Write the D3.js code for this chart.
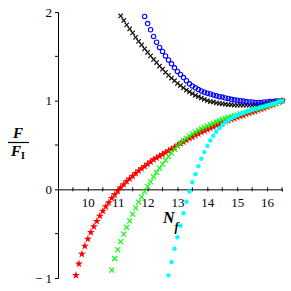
<!DOCTYPE html>
<html>
<head>
<meta charset="utf-8">
<script src="https://cdn.jsdelivr.net/npm/d3@7"></script>
<style>
body { margin: 0; background: white; }
text { font-family: "Liberation Serif", "Times New Roman", serif; }
</style>
</head>
<body>
<script>
// N_f grid shared by all series (each series uses the tail of it)
const nf = [9.6, 9.7, 9.8, 9.9, 10.0, 10.1, 10.2, 10.3, 10.4, 10.5,
    10.6, 10.7, 10.8, 10.9, 11.0, 11.1, 11.2, 11.3, 11.4, 11.5,
    11.6, 11.7, 11.8, 11.9, 12.0, 12.1, 12.2, 12.3, 12.4, 12.5,
    12.6, 12.7, 12.8, 12.9, 13.0, 13.1, 13.2, 13.3, 13.4, 13.5,
    13.6, 13.7, 13.8, 13.9, 14.0, 14.1, 14.2, 14.3, 14.4, 14.5,
    14.6, 14.7, 14.8, 14.9, 15.0, 15.1, 15.2, 15.3, 15.4, 15.5,
    15.6, 15.7, 15.8, 15.9, 16.0, 16.1, 16.2, 16.3, 16.4, 16.5]

// F/F_I values
const blackCross = [1.955, 1.905, 1.855, 1.81, 1.765, 1.715, 1.67, 1.63, 1.585, 1.545,
    1.505, 1.465, 1.43, 1.39, 1.355, 1.32, 1.285, 1.255, 1.225, 1.195,
    1.17, 1.145, 1.12, 1.10, 1.08, 1.06, 1.045, 1.03, 1.015, 1.0,
    0.99, 0.985, 0.975, 0.97, 0.965, 0.96, 0.955, 0.955, 0.95, 0.95,
    0.95, 0.95, 0.95, 0.95, 0.95, 0.955, 0.955, 0.96, 0.965, 0.97,
    0.975, 0.98, 0.985, 0.99, 1.0]
const blueCircle = [1.95, 1.87, 1.80, 1.725, 1.66, 1.60, 1.555, 1.505, 1.46, 1.415,
    1.37, 1.33, 1.295, 1.26, 1.225, 1.19, 1.165, 1.145, 1.125, 1.11,
    1.095, 1.085, 1.075, 1.065, 1.055, 1.045, 1.04, 1.03, 1.025, 1.015,
    1.01, 1.005, 1.0, 0.995, 0.99, 0.985, 0.985, 0.98, 0.98, 0.98,
    0.985, 0.985, 0.99, 0.99, 0.995, 0.995, 1.0]
const redStar = [-0.97, -0.84, -0.73, -0.64, -0.56, -0.485, -0.42, -0.36, -0.30, -0.245,
    -0.195, -0.15, -0.10, -0.06, -0.02, 0.02, 0.055, 0.09, 0.12, 0.15,
    0.18, 0.21, 0.235, 0.26, 0.285, 0.31, 0.335, 0.355, 0.375, 0.395,
    0.415, 0.435, 0.455, 0.475, 0.495, 0.515, 0.535, 0.555, 0.575, 0.59,
    0.61, 0.625, 0.645, 0.66, 0.675, 0.69, 0.705, 0.72, 0.735, 0.75,
    0.765, 0.775, 0.79, 0.80, 0.815, 0.825, 0.835, 0.85, 0.86, 0.87,
    0.88, 0.895, 0.905, 0.915, 0.93, 0.945, 0.955, 0.97, 0.985, 1.0]
const greenCross = [-0.91, -0.78, -0.68, -0.59, -0.505, -0.43, -0.355, -0.28, -0.21, -0.145,
    -0.085, -0.025, 0.03, 0.085, 0.14, 0.19, 0.24, 0.285, 0.33, 0.37,
    0.41, 0.45, 0.49, 0.52, 0.55, 0.575, 0.60, 0.625, 0.645, 0.665,
    0.685, 0.70, 0.715, 0.73, 0.745, 0.76, 0.775, 0.79, 0.80, 0.81,
    0.82, 0.83, 0.84, 0.85, 0.86, 0.87, 0.88, 0.89, 0.90, 0.91,
    0.92, 0.93, 0.94, 0.95, 0.96, 0.97, 0.985, 1.0]
const cyanDot = [-0.97, -0.82, -0.67, -0.54, -0.41, -0.27, -0.14, -0.025, 0.08, 0.17,
    0.26, 0.345, 0.42, 0.49, 0.55, 0.605, 0.65, 0.69, 0.725, 0.755,
    0.78, 0.80, 0.82, 0.835, 0.85, 0.86, 0.875, 0.885, 0.895, 0.905,
    0.915, 0.925, 0.935, 0.945, 0.955, 0.965, 0.975, 0.99, 1.0]

const xMajor = [10, 11, 12, 13, 14, 15, 16]
const xMinor = [9.5, 10.5, 11.5, 12.5, 13.5, 14.5, 15.5, 16.5]
const yMajor = [-1, 0, 1, 2]
const yMinor = [-0.5, 0.5, 1.5]

let xScale, yScale
let w = 291, h = 291

function createScales() {
    xScale = d3.scaleLinear().domain([9, 16.5]).range([58, 282])
    yScale = d3.scaleLinear().domain([-1, 2]).range([278, 12])
}

function pts(vals) {
    // pair each value with the tail of the N_f grid
    let ns = nf.slice(nf.length - vals.length)
    return vals.map((v, i) => [ns[i], v])
}

function drawChart() {
    let svg = d3.select('body').append('svg')
        .attr('width', w)
        .attr('height', h)

    // x-axis through F = 0
    let xAxis = d3.axisBottom(xScale).tickValues(xMajor).tickSizeOuter(0)
        .tickSize(2).tickPadding(6).tickFormat(d3.format('d'))
    let gx = svg.append('g')
        .attr('transform', `translate(0, ${yScale(0)})`)
        .call(xAxis)
    gx.selectAll('.tick line').attr('y1', -2).attr('y2', 2)
    gx.selectAll('text').style('font-size', '13px').attr('fill', '#000')
    gx.selectAll('.minor')
        .data(xMinor)
        .join('line')
        .attr('x1', d => xScale(d)).attr('x2', d => xScale(d))
        .attr('y1', -2).attr('y2', 2)
        .attr('stroke', '#000')

    // y-axis
    let yAxis = d3.axisLeft(yScale).tickValues(yMajor).tickSizeOuter(0)
        .tickSize(3).tickPadding(3)
        .tickFormat(d => d < 0 ? '\u2212 ' + Math.abs(d) : d)
    let gy = svg.append('g')
        .attr('transform', `translate(${xScale(9)}, 0)`)
        .call(yAxis)
    gy.selectAll('text').style('font-size', '13px').attr('fill', '#000')
    gy.selectAll('.minor')
        .data(yMinor)
        .join('line')
        .attr('y1', d => yScale(d)).attr('y2', d => yScale(d))
        .attr('x1', -3).attr('x2', 0)
        .attr('stroke', '#000')

    // series markers
    const cross = 'M-2.2,-2.2L2.2,2.2M-2.2,2.2L2.2,-2.2'
    const gcross = 'M-2.5,-2.5L2.5,2.5M-2.5,2.5L2.5,-2.5'

    svg.append('g').selectAll('path')
        .data(pts(blackCross))
        .join('path')
        .attr('transform', d => `translate(${xScale(d[0])},${yScale(d[1])})`)
        .attr('d', cross)
        .attr('stroke', '#111')
        .attr('stroke-width', 1.2)

    svg.append('g').selectAll('circle')
        .data(pts(blueCircle))
        .join('circle')
        .attr('cx', d => xScale(d[0]))
        .attr('cy', d => yScale(d[1]))
        .attr('r', 2.2)
        .attr('fill', 'none')
        .attr('stroke', '#0000ff')
        .attr('stroke-width', 1.1)

    svg.append('g').selectAll('path')
        .data(pts(redStar))
        .join('path')
        .attr('transform', d => `translate(${xScale(d[0])},${yScale(d[1])})`)
        .attr('d', d3.symbol(d3.symbolStar, 20)())
        .attr('fill', '#ff0000')

    svg.append('g').selectAll('path')
        .data(pts(greenCross))
        .join('path')
        .attr('transform', d => `translate(${xScale(d[0])},${yScale(d[1])})`)
        .attr('d', gcross)
        .attr('stroke', '#00ff00')
        .attr('stroke-width', 1.1)

    svg.append('g').selectAll('circle')
        .data(pts(cyanDot))
        .join('circle')
        .attr('cx', d => xScale(d[0]))
        .attr('cy', d => yScale(d[1]))
        .attr('r', 2.2)
        .attr('fill', '#00ffff')

    // y label: F / F_I
    let yl = svg.append('g').attr('font-weight', 'bold')
    yl.append('text')
        .attr('x', 18).attr('y', 138)
        .attr('text-anchor', 'middle')
        .style('font-size', '15px').style('font-style', 'italic')
        .text('F')
    yl.append('line')
        .attr('x1', 8).attr('x2', 29)
        .attr('y1', 142.5).attr('y2', 142.5)
        .attr('stroke', '#000').attr('stroke-width', 1.2)
    let den = yl.append('text')
        .attr('x', 11).attr('y', 156)
        .style('font-size', '15px')
    den.append('tspan').style('font-style', 'italic').text('F')
    den.append('tspan').attr('dy', 3).style('font-size', '10px').text('I')

    // x label: N_f
    let xl = svg.append('text')
        .attr('x', 163).attr('y', 223)
        .attr('font-weight', 'bold')
        .style('font-style', 'italic')
        .style('font-size', '16px')
    xl.append('tspan').text('N')
    xl.append('tspan').attr('dy', 8).style('font-size', '12px').text('f')
}

createScales()
drawChart()
</script>
</body>
</html>
